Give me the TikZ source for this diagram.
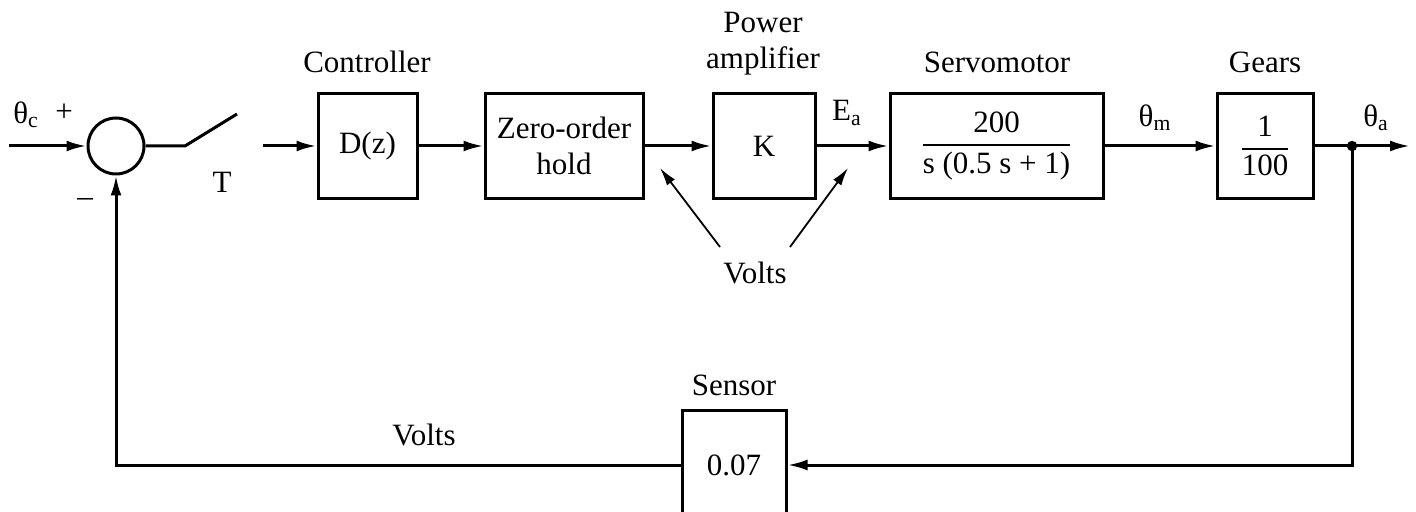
\documentclass[tikz,border=0pt]{standalone}
\usepackage{amsmath}
\usepackage{fontspec}
\setmainfont{Liberation Serif}
\usetikzlibrary{arrows.meta,positioning,calc}

\begin{document}
\begin{tikzpicture}[
    x=0.5pt, y=-0.5pt,
    font=\fontsize{15.5}{18}\selectfont,
    block/.style={rectangle, draw, line width=1.5pt, minimum height=52.5pt, inner sep=2pt, align=center},
    arrow/.style={-{Latex[length=10pt,width=5.5pt]}, line width=1.5pt},
    thinarrow/.style={-{Latex[length=9pt,width=5pt]}, line width=0.9pt},
    tag/.style={align=center, inner sep=1pt}
]
    \useasboundingbox (0,0) rectangle (1416,512);

    % forward path
    \node[circle, draw, line width=1.5pt, minimum size=28pt, inner sep=0pt] (sum) at (116,146) {};
    \node[block, minimum width=49.5pt] (ctrl) at (367.5,146) {D(z)};
    \node[block, minimum width=79pt] (zoh) at (564,146) {Zero-order\\hold};
    \node[block, minimum width=51pt] (amp) at (764,146) {K};
    \node[block, minimum width=106.5pt] (motor) at (996.5,146)
        {$\genfrac{}{}{0.9pt}{0}{\text{200}}{\text{s (0.5 s + 1)}}$};
    \node[block, minimum width=48pt] (gears) at (1265,146)
        {$\genfrac{}{}{0.9pt}{0}{\text{1}}{\text{100}}$};
    \node[block, minimum width=52pt, minimum height=55pt] (sensor) at (734,465) {0.07};

    \coordinate (in) at (9,146);
    \coordinate (sw1) at (185,146);
    \coordinate (sw2) at (237,114);
    \coordinate (sw3) at (263,146);
    \coordinate (out) at (1410,146);
    \coordinate (va1) at (720,247);
    \coordinate (va2) at (660,168);
    \coordinate (vb1) at (790,247);
    \coordinate (vb2) at (848,168);
    \fill (1352,146) circle (2.6pt) coordinate (tap);

    % labels
    \node[tag] (thc) at (26,115) {θ\textsubscript{c}};
    \node[tag] (plus) at (64,113) {+};
    \node[tag] (minus) at (85,203) {–};
    \node[tag] (samp) at (222,182) {T};
    \node[tag] (ctrltxt) at (367,62) {Controller};
    \node[tag] (amptxt) at (763,44) {Power\\amplifier};
    \node[tag] (motortxt) at (997,62) {Servomotor};
    \node[tag] (gearstxt) at (1265,62) {Gears};
    \node[tag] (ea) at (847,113) {E\textsubscript{a}};
    \node[tag] (thm) at (1155,118) {θ\textsubscript{m}};
    \node[tag] (tha) at (1376,118) {θ\textsubscript{a}};
    \node[tag] (volts) at (755,273) {Volts};
    \node[tag] (sensortxt) at (734,385) {Sensor};
    \node[tag] (fbvolts) at (424,435) {Volts};

    % connectors
    \draw[arrow] (in) -- (sum.west);
    \draw[line width=1.5pt] (sum.east) -- (sw1) -- (sw2);
    \draw[arrow] (sw3) -- (ctrl.west);
    \draw[arrow] (ctrl.east) -- (zoh.west);
    \draw[arrow] (zoh.east) -- (amp.west);
    \draw[arrow] (amp.east) -- (motor.west);
    \draw[arrow] (motor.east) -- (gears.west);
    \draw[line width=1.5pt] (gears.east) -- (tap);
    \draw[arrow] (tap) -- (out);
    \draw[arrow] (tap) |- (sensor.east);
    \draw[arrow] (sensor.west) -| (sum.south);
    \draw[thinarrow] (va1) -- (va2);
    \draw[thinarrow] (vb1) -- (vb2);
\end{tikzpicture}
\end{document}
